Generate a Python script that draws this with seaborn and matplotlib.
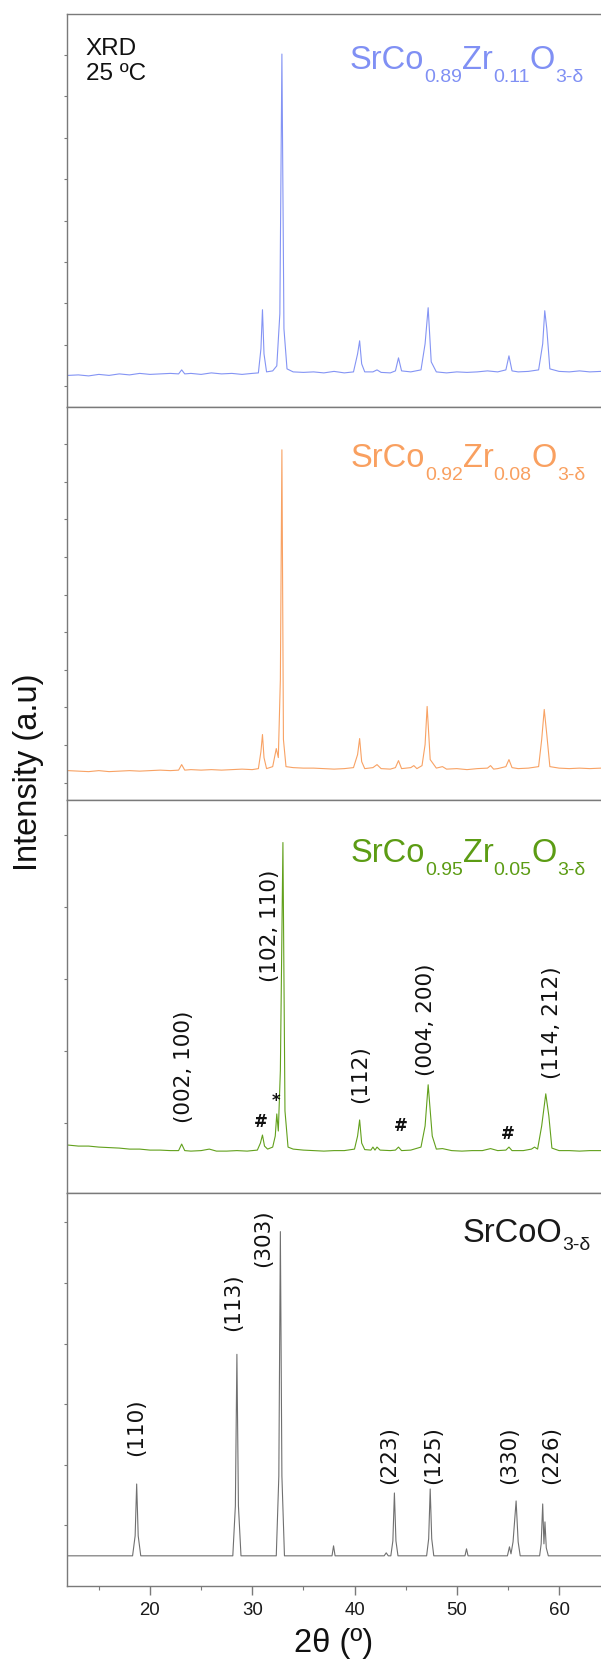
import matplotlib
matplotlib.use("Agg")
import matplotlib.pyplot as plt
import matplotlib.ticker as tik
import seaborn as sns
import numpy as np

#### data (intensity in arbitrary units, baseline = 0)
# SrCo0.89Zr0.11O3-d
tt_89 = [12.0, 13.0, 14.0, 15.0, 16.0, 17.0, 18.0, 19.0, 20.0, 21.0, 22.0, 22.8, 23.1, 23.4,
         24.0, 25.0, 26.0, 27.0, 28.0, 29.0, 30.0, 30.6, 30.85, 31.0, 31.15, 31.4, 32.0, 32.4,
         32.7, 32.9, 33.1, 33.4, 34.0, 35.0, 36.0, 37.0, 38.0, 39.0, 39.9, 40.3, 40.5, 40.7,
         41.0, 41.8, 42.2, 42.6, 43.5, 44.0, 44.3, 44.6, 45.5, 46.5, 46.9, 47.2, 47.5, 48.0,
         49.0, 50.0, 51.0, 52.0, 53.0, 54.0, 54.8, 55.1, 55.4, 56.0, 57.0, 58.0, 58.4, 58.6,
         58.8, 59.1, 60.0, 61.0, 62.0, 63.0, 64.1]
int_89 = [-1.5, -1, -2, -0.5, -1.5, 0, -1, 0.5, -0.5, 0, 0.5, 0, 4, 0,
          0.5, -0.5, 1, 0, 0.5, -0.5, 0.5, 1, 25, 64, 20, 2, 3, 8,
          60, 319, 45, 5, 2, 1.5, 2, 1, 2.5, 1, 2, 20, 33, 10,
          2, 2, 4, 1.5, 1, 3, 16, 3, 2, 4, 30, 66, 12, 2,
          1, 2, 1.5, 2, 3, 2, 4, 18, 3, 2, 2.5, 4, 30, 63,
          45, 5, 2.5, 2, 3, 2, 2.5]

# SrCo0.92Zr0.08O3-d
tt_92 = [12.0, 13.0, 14.0, 15.0, 16.0, 17.0, 18.0, 19.0, 20.0, 21.0, 22.0, 22.8, 23.1, 23.4,
         24.0, 25.0, 26.0, 27.0, 28.0, 29.0, 30.0, 30.6, 30.85, 31.0, 31.15, 31.4, 32.0, 32.35,
         32.55, 32.75, 32.9, 33.05, 33.3, 34.0, 35.0, 36.0, 37.0, 38.0, 39.0, 39.9, 40.3, 40.5,
         40.7, 41.0, 41.8, 42.2, 42.6, 43.5, 44.0, 44.3, 44.6, 45.5, 45.8, 46.1, 46.6, 46.9,
         47.1, 47.4, 48.0, 48.6, 49.0, 50.0, 51.0, 52.0, 53.0, 53.3, 53.6, 54.0, 54.8, 55.1,
         55.4, 56.0, 57.0, 58.0, 58.3, 58.55, 58.8, 59.1, 60.0, 61.0, 62.0, 63.0, 64.1]
int_92 = [-1, -1.5, -2, -1, -2, -1.5, -1, -1.5, -1, -0.5, -1, -0.5, 5, -0.5,
          0, -0.5, 0, -0.5, 0, 0.5, 0, 1, 18, 35, 12, 1, 3, 21,
          12, 90, 319, 30, 3, 2, 1.5, 1.5, 1, 0.5, 1, 2, 15, 31,
          8, 1, 2, 5, 1, 0.5, 2, 9, 1, 2, 4, 1, 4, 25,
          63, 10, 1.5, 3, 0.5, 1, 0, 1, 1.5, 4, 0.5, 1, 3, 10,
          2, 1, 1.5, 3, 30, 60, 35, 3, 1.5, 1, 1.5, 1, 1.5]

# SrCo0.95Zr0.05O3-d
tt_95 = [12.0, 13.0, 14.0, 15.0, 16.0, 17.0, 18.0, 19.0, 20.0, 21.0, 22.0, 22.8, 23.1, 23.4,
         24.0, 25.0, 25.8, 26.5, 27.5, 28.5, 29.5, 30.5, 30.8, 31.0, 31.2, 31.5, 32.0, 32.25,
         32.4, 32.55, 32.75, 33.0, 33.2, 33.5, 34.0, 35.0, 36.0, 37.0, 38.0, 39.0, 40.0, 40.3,
         40.5, 40.7, 41.0, 41.6, 41.8, 42.0, 42.2, 42.5, 43.5, 44.0, 44.3, 44.6, 45.5, 46.5,
         46.9, 47.2, 47.6, 48.0, 48.6, 49.5, 50.5, 51.5, 52.5, 53.3, 54.0, 54.8, 55.1, 55.4,
         56.5, 57.3, 57.6, 57.9, 58.3, 58.7, 59.0, 59.3, 60.0, 61.0, 62.0, 63.0, 64.1]
int_95 = [6, 5, 5, 4, 3.5, 3, 2, 2, 1, 1, 0.5, 0.5, 7, 0.5,
          0, 0.5, 2, 0, 0, 0.5, 0, 1, 8, 16, 5, 2, 4, 15,
          37, 20, 80, 307, 40, 4, 2, 1, 0.5, 0, 0.5, 0.5, 2, 15,
          31, 8, 1.5, 1, 4, 1, 4, 1, 0.5, 1, 4, 0.5, 1, 4,
          25, 66, 15, 2, 2.5, 0.5, 0, 0.5, 0.5, 2.5, 0.5, 1, 4, 0.5,
          0.5, 2, 4, 2, 25, 57, 35, 3, 0.5, 0.5, 0, 0.5, 0.5]

# SrCoO3-d
tt_sco = [12.0, 18.3, 18.55, 18.7, 18.85, 19.1, 28.1, 28.35, 28.5, 28.65, 28.9, 32.35, 32.6,
          32.75, 32.9, 33.15, 37.8, 37.95, 38.1, 42.9, 43.1, 43.3, 43.55, 43.75, 43.9, 44.05,
          44.25, 47.05, 47.25, 47.4, 47.55, 47.75, 50.8, 50.95, 51.1, 54.95, 55.15, 55.3, 55.5,
          55.8, 56.0, 56.2, 58.1, 58.25, 58.4, 58.52, 58.62, 58.75, 58.95, 64.1]
int_sco = [0, 0, 20, 72, 20, 0, 0, 50, 202, 50, 0, 0, 80,
           325, 80, 0, 0, 10, 0, 0, 3, 0, 0, 15, 63, 15,
           0, 0, 17, 67, 17, 0, 0, 7, 0, 0, 9, 2, 14,
           55, 14, 0, 0, 12, 52, 12, 34, 8, 0, 0]

# sample names, split into (text, is_subscript)
names = [[("SrCo", 0), ("0.89", 1), ("Zr", 0), ("0.11", 1), ("O", 0), ("3-δ", 1)],
         [("SrCo", 0), ("0.92", 1), ("Zr", 0), ("0.08", 1), ("O", 0), ("3-δ", 1)],
         [("SrCo", 0), ("0.95", 1), ("Zr", 0), ("0.05", 1), ("O", 0), ("3-δ", 1)],
         [("SrCoO", 0), ("3-δ", 1)]]
colors = ["#8494f4", "#f8a264", "#62a01c", "#707070"]
name_colors = ["#8090f4", "#f9a060", "#5c9c14", "#1a1a1a"]

# hkl labels
hkl_95_x = [23.3, 31.75, 40.5, 47.0, 59.3]
hkl_95_y = [28, 168, 48, 75, 72]
hkl_95_txt = ["(002, 100)", "(102, 110)", "(112)", "(004, 200)", "(114, 212)"]
mark_95_x = [30.8, 32.3, 44.5, 55.0]
mark_95_y = [29, 50, 25, 17]
mark_95_txt = ["#", "*", "#", "#"]

hkl_sco_x = [18.65, 28.1, 31.1, 43.4, 47.7, 55.1, 59.2]
hkl_sco_y = [100, 225, 290, 72, 72, 72, 72]
hkl_sco_txt = ["(110)", "(113)", "(303)", "(223)", "(125)", "(330)", "(226)"]

sns.set_style("ticks")
plt.rcParams["font.family"] = ["Liberation Sans", "DejaVu Sans"]

W, H = 601, 1662
fig, axes = plt.subplots(4, 1, figsize=(W / 100, H / 100), dpi=100, sharex=True)
fig.subplots_adjust(left=0.111, right=1.0, top=0.9916, bottom=0.0457, hspace=0)

series = [(tt_89, int_89), (tt_92, int_92), (tt_95, int_95), (tt_sco, int_sco)]
ylims = [(-33, 359), (-30.3, 361.7), (-41.7, 349.3), (-30.3, 363.7)]
yticks = [np.arange(-12.3, 330, 41.3), np.arange(-13, 330, 37.5),
          np.arange(28, 330, 71.6), np.arange(30.7, 340, 60.7)]

for i, ax in enumerate(axes):
    x, y = series[i]
    sns.lineplot(x=x, y=y, ax=ax, color=colors[i], lw=0.8, estimator=None, sort=False)
    ax.set_ylim(*ylims[i])
    ax.set_yticks(yticks[i])
    ax.set_yticklabels([])
    ax.tick_params(axis="y", direction="out", length=2.5, width=0.8, color="#7a7a7a")
    for s in ["left", "top", "bottom"]:
        ax.spines[s].set_color("#7a7a7a")
        ax.spines[s].set_linewidth(1.0)
    ax.spines["right"].set_visible(False)
    if i < 3:
        ax.tick_params(axis="x", which="both", bottom=False, labelbottom=False)

ax = axes[-1]
ax.set_xlim(11.86, 64.1)
ax.xaxis.set_major_locator(tik.MultipleLocator(10))
ax.xaxis.set_minor_locator(tik.MultipleLocator(5))
ax.tick_params(axis="x", which="major", direction="out", length=6.5, width=1.0,
               color="#7a7a7a", labelsize=13.4, pad=5, labelcolor="#1a1a1a")
ax.tick_params(axis="x", which="minor", direction="out", length=3, width=0.8, color="#7a7a7a")

# sample names with real subscripts (pixel positions of right end / baseline)
renderer = fig.canvas.get_renderer()
name_right = [583, 585, 585, 590]
name_base = [69.3, 466.7, 861.7, 1241.7]
sub_drop = [13, 13, 13, 8]
for i, parts in enumerate(names):
    pieces = []
    for s, sub in parts:
        t = fig.text(0, 0, s, fontsize=14 if sub else 23.5, color=name_colors[i],
                     ha="left", va="baseline")
        pieces.append((t, t.get_window_extent(renderer).width, sub))
    xpos = name_right[i] - sum(w for _, w, _ in pieces)
    for t, w, sub in pieces:
        ypos = name_base[i] + (sub_drop[i] if sub else 0)
        t.set_position((xpos / W, 1 - ypos / H))
        xpos += w

axes[0].text(0.036, 0.939, "XRD\n25 ºC", transform=axes[0].transAxes, ha="left", va="top",
             fontsize=17.5, linespacing=1.2, color="#111111")

for xx, yy, t in zip(hkl_95_x, hkl_95_y, hkl_95_txt):
    axes[2].text(xx, yy, t, rotation=90, ha="center", va="bottom", fontsize=15.5,
                 family="DejaVu Sans", color="#111111")
for xx, yy, t in zip(mark_95_x, mark_95_y, mark_95_txt):
    axes[2].text(xx, yy, t, ha="center", va="center", fontsize=12, fontweight="bold",
                 family="DejaVu Sans", color="#111111")
for xx, yy, t in zip(hkl_sco_x, hkl_sco_y, hkl_sco_txt):
    axes[3].text(xx, yy, t, rotation=90, ha="center", va="bottom", fontsize=15.5,
                 family="DejaVu Sans", color="#111111")

fig.text(28.6 / W, 1 - 772 / H, "Intensity (a.u)", rotation=90, ha="center",
         va="center", fontsize=23.5, color="#111111")
fig.text(334 / W, 1 - 1628 / H, "2θ (º)", ha="center", va="top", fontsize=23.5,
         color="#111111")

plt.savefig("out.png", dpi=100)
